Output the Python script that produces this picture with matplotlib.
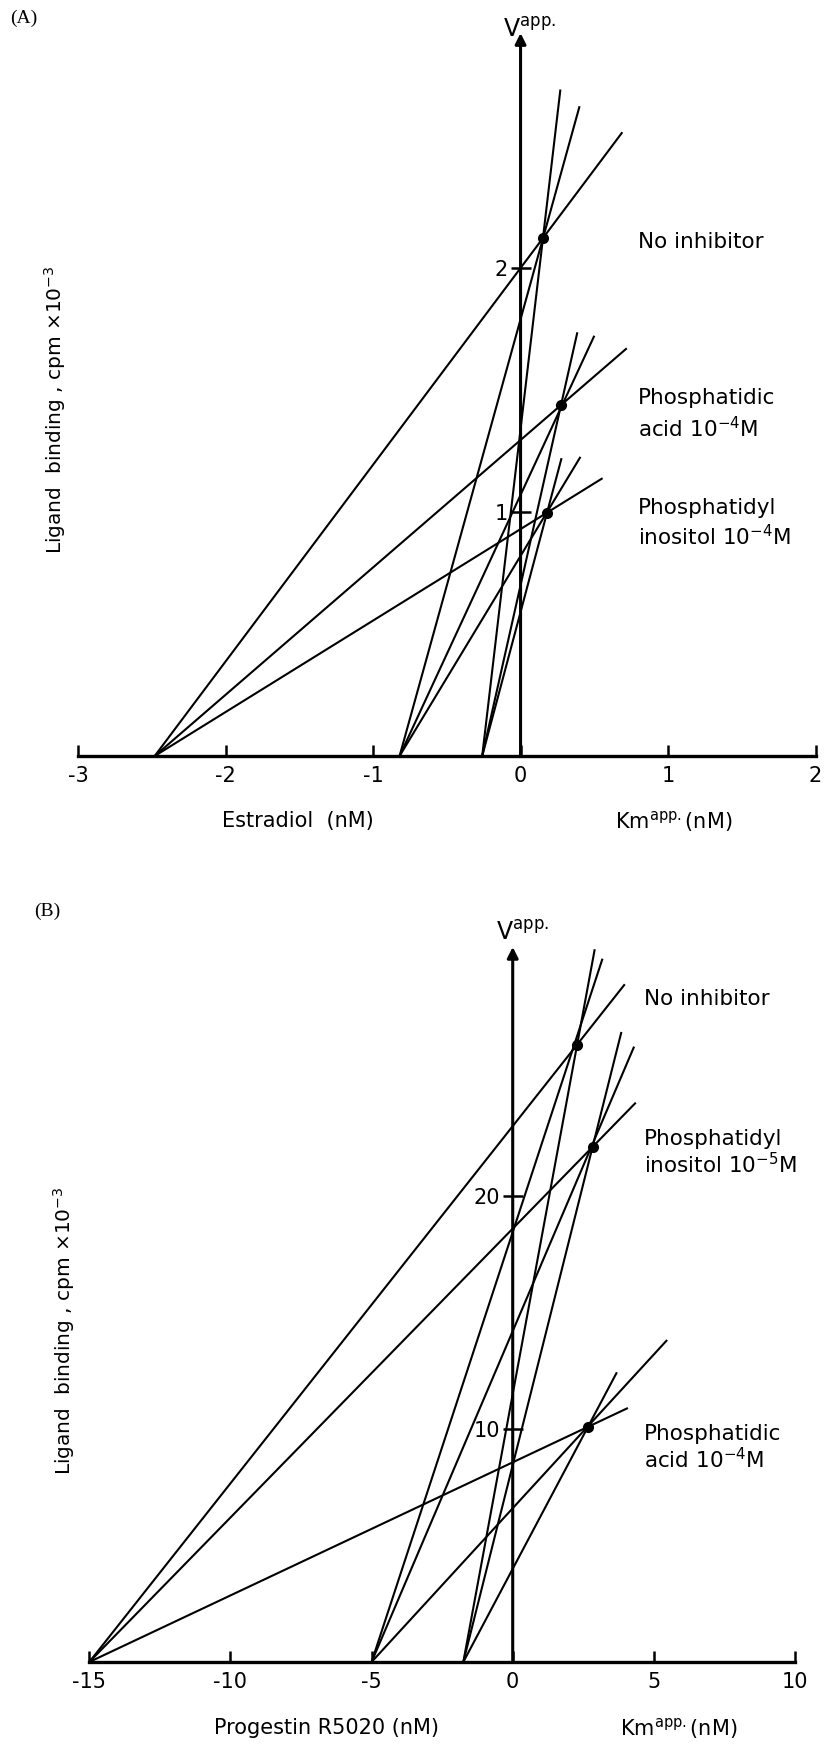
import matplotlib
matplotlib.use('Agg')
import matplotlib.pyplot as plt
import numpy as np

plt.rcParams['font.family'] = ['DejaVu Sans']
plt.rcParams['axes.unicode_minus'] = False
plt.rcParams['mathtext.fontset'] = 'dejavusans'

# ---------------- Data ----------------
# Panel A (estradiol): substrate concentrations (x-intercepts are -s)
a_substrate = [2.48, 0.82, 0.26]
a_v_none = [2.00, 1.79, 1.34]
a_end_none = [0.69, 0.40, 0.27]
a_v_pa = [1.295, 1.07, 0.70]
a_end_pa = [0.72, 0.50, 0.385]
a_v_pi = [0.93, 0.82, 0.59]
a_end_pi = [0.556, 0.406, 0.278]
a_xticks = [-3, -2, -1, 0, 1, 2]
a_yticks = [1, 2]

# Panel B (progestin R5020)
b_substrate = [15.0, 5.0, 1.75]
b_v_none = [23.0, 18.45, 11.5]
b_end_none = [3.97, 3.18, 2.905]
b_v_pi = [18.6, 14.2, 8.45]
b_end_pi = [4.36, 4.30, 3.85]
b_v_pa = [8.57, 6.6, 4.0]
b_end_pa = [4.08, 5.47, 3.69]
b_xticks = [-15, -10, -5, 0, 5, 10]
b_yticks = [10, 20]

W, H = 824, 1744
fig = plt.figure(figsize=(W / 100, H / 100), dpi=100)


def add_axes_px(left, right, bottom_px, top_px):
    return fig.add_axes([left / W, 1 - bottom_px / H,
                         (right - left) / W, (bottom_px - top_px) / H])


def fig_text(x, y, s, **kw):
    fig.text(x / W, 1 - y / H, s, **kw)


def intersection(s_list, v_list):
    xs, ys = [], []
    n = len(s_list)
    for i in range(n):
        for j in range(i + 1, n):
            si, vi = s_list[i], v_list[i]
            sj, vj = s_list[j], v_list[j]
            mi, mj = vi / si, vj / sj
            x = (vj - vi) / (mi - mj)
            xs.append(x)
            ys.append(vi + mi * x)
    return np.median(xs), np.median(ys)


def draw_panel(ax, s_list, groups, xticks, yticks, xlim, ylim, vtop):
    ax.set_xlim(*xlim)
    ax.set_ylim(*ylim)
    for v_list, end_list in groups:
        for s, v, xe in zip(s_list, v_list, end_list):
            ax.plot([-s, xe], [0, v * (1 + xe / s)], color='k', lw=1.5,
                    clip_on=False, solid_capstyle='butt')
        xi, yi = intersection(s_list, v_list)
        ax.plot([xi], [yi], 'o', color='k', ms=7, clip_on=False)
    for sp in ['top', 'right']:
        ax.spines[sp].set_visible(False)
    ax.spines['bottom'].set_linewidth(2.4)
    ax.spines['left'].set_position(('data', 0))
    ax.spines['left'].set_visible(False)
    ax.set_xticks(xticks)
    ax.set_xticklabels([str(t) for t in xticks])
    ax.set_yticks(yticks)
    ax.set_yticklabels([str(t) for t in yticks])
    ax.tick_params(axis='x', direction='in', length=8, width=1.8,
                   labelsize=15, pad=7)
    ax.tick_params(axis='y', direction='inout', length=14, width=1.8,
                   labelsize=15, pad=2)
    ax.annotate('', xy=(0, vtop), xytext=(0, 0),
                arrowprops=dict(arrowstyle='-|>', lw=2.2, color='k',
                                mutation_scale=16, shrinkA=0, shrinkB=0),
                annotation_clip=False)
    ax.patch.set_visible(False)


# ---------------- Panel A ----------------
axA = add_axes_px(78, 815.6, 756, 24)
draw_panel(axA, a_substrate,
           [(a_v_none, a_end_none), (a_v_pa, a_end_pa), (a_v_pi, a_end_pi)],
           a_xticks, a_yticks, (-3, 2), (0, 3.0), 2.963)

fig_text(10, 18, '(A)', fontsize=14, family='Liberation Serif', va='center')
fig_text(503, 37, r'V$^{\mathrm{app.}}$', fontsize=17, va='baseline')
fig_text(638, 248, 'No inhibitor', fontsize=15.5, va='baseline')
fig_text(638, 404, 'Phosphatidic', fontsize=15.5, va='baseline')
fig_text(638, 437, r'acid 10$^{-4}$M', fontsize=15.5, va='baseline')
fig_text(638, 514, 'Phosphatidyl', fontsize=15.5, va='baseline')
fig_text(638, 545, r'inositol 10$^{-4}$M', fontsize=15.5, va='baseline')
fig_text(298, 821, 'Estradiol  (nM)', fontsize=15, ha='center', va='center')
fig_text(674, 821, r'Km$^{\mathrm{app.}}$(nM)', fontsize=15, ha='center', va='center')
fig_text(55, 410, r'Ligand  binding , cpm $\times$10$^{-3}$', fontsize=14.5,
         rotation=90, ha='center', va='center')

# ---------------- Panel B ----------------
axB = add_axes_px(89.3, 795, 1662, 1662 - 31 * 23.3)
draw_panel(axB, b_substrate,
           [(b_v_none, b_end_none), (b_v_pi, b_end_pi), (b_v_pa, b_end_pa)],
           b_xticks, b_yticks, (-15, 10), (0, 31), 30.69)

fig_text(34, 911, '(B)', fontsize=14, family='Liberation Serif', va='center')
fig_text(496, 940, r'V$^{\mathrm{app.}}$', fontsize=17, va='baseline')
fig_text(644, 1005, 'No inhibitor', fontsize=15.5, va='baseline')
fig_text(644, 1145, 'Phosphatidyl', fontsize=15.5, va='baseline')
fig_text(644, 1173, r'inositol 10$^{-5}$M', fontsize=15.5, va='baseline')
fig_text(644, 1440, 'Phosphatidic', fontsize=15.5, va='baseline')
fig_text(644, 1468, r'acid 10$^{-4}$M', fontsize=15.5, va='baseline')
fig_text(327, 1728, 'Progestin R5020 (nM)', fontsize=15, ha='center', va='center')
fig_text(679, 1728, r'Km$^{\mathrm{app.}}$(nM)', fontsize=15, ha='center', va='center')
fig_text(64, 1331, r'Ligand  binding , cpm $\times$10$^{-3}$', fontsize=14.5,
         rotation=90, ha='center', va='center')

fig.savefig('out.png', dpi=100, facecolor='white')
